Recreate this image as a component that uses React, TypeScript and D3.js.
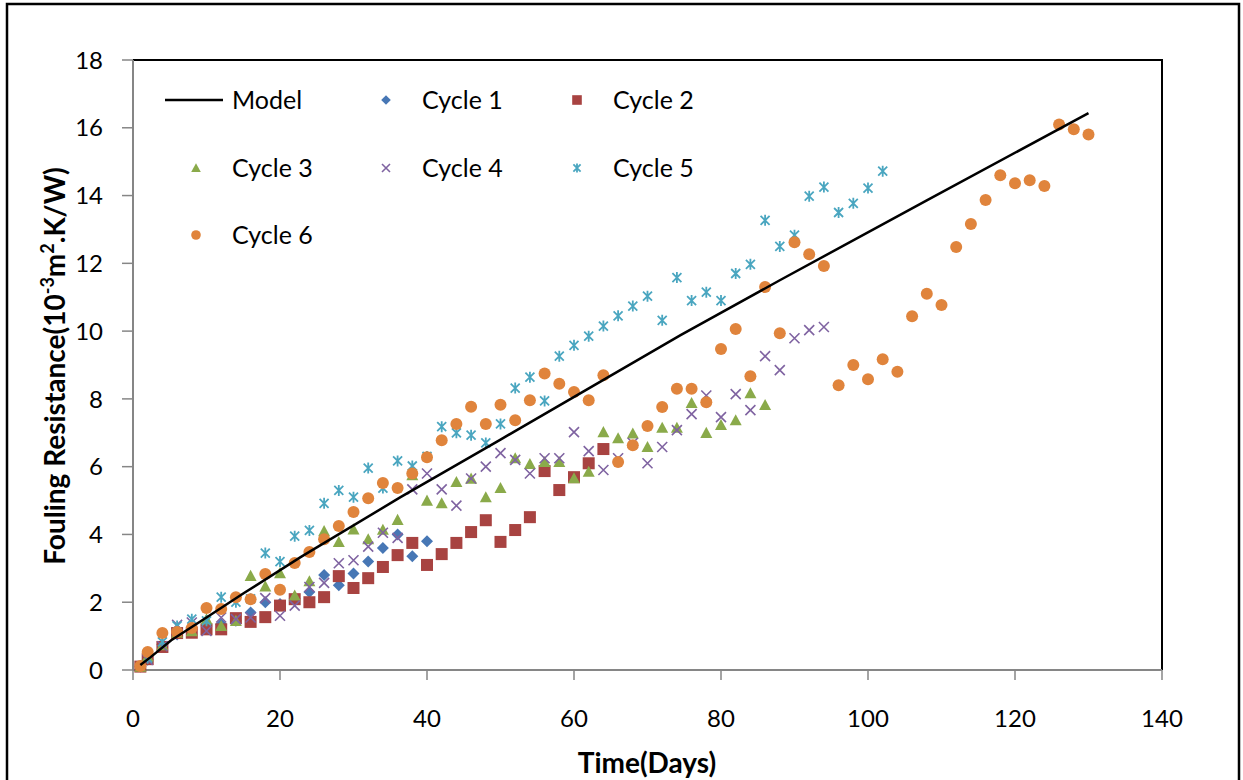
import React from "react";
import * as d3 from "d3";

const xTicks = [0, 20, 40, 60, 80, 100, 120, 140];
const yTicks = [0, 2, 4, 6, 8, 10, 12, 14, 16, 18];

const modelDays = [1, 2.4, 5.2, 10, 15.1, 22.8, 36.4, 50, 74.5, 88, 108, 130];
const modelValues = [0.15, 0.38, 0.88, 1.55, 2.27, 3.33, 5.1, 6.8, 9.88, 11.5, 13.86, 16.43];

const c1Days = [1, 2, 4, 6, 8, 10, 12, 14, 16, 18, 20, 22, 24, 26, 28, 30, 32, 34, 36, 38, 40];
const c1Values = [0.1, 0.3, 0.75, 1.05, 1.2, 1.3, 1.35, 1.45, 1.7, 2.0, 1.95, 2.1, 2.3, 2.8, 2.5, 2.85, 3.2, 3.6, 4.0, 3.36, 3.8];

const c2Days = [1, 2, 4, 6, 8, 10, 12, 14, 16, 18, 20, 22, 24, 26, 28, 30, 32, 34, 36, 38, 40, 42, 44, 46, 48, 50, 52, 54, 56, 58, 60, 62, 64];
const c2Values = [0.1, 0.32, 0.68, 1.09, 1.1, 1.2, 1.2, 1.53, 1.42, 1.56, 1.9, 2.09, 2.0, 2.15, 2.77, 2.42, 2.71, 3.04, 3.39, 3.75, 3.1, 3.42, 3.75, 4.07, 4.42, 3.78, 4.13, 4.51, 5.87, 5.31, 5.69, 6.1, 6.52];

const c3Days = [1, 2, 4, 6, 8, 10, 12, 14, 16, 18, 20, 22, 24, 26, 28, 30, 32, 34, 36, 38, 40, 42, 44, 46, 48, 50, 52, 54, 56, 58, 60, 62, 64, 66, 68, 70, 72, 74, 76, 78, 80, 82, 84, 86];
const c3Values = [0.1, 0.4, 0.73, 1.1, 1.15, 1.5, 1.3, 1.45, 2.78, 2.47, 2.86, 2.2, 2.62, 4.1, 3.78, 4.15, 3.86, 4.14, 4.43, 5.75, 5.0, 4.92, 5.55, 5.65, 5.1, 5.37, 6.25, 6.08, 6.14, 6.14, 5.66, 5.85, 7.02, 6.84, 6.98, 6.58, 7.15, 7.15, 7.88, 7.0, 7.23, 7.37, 8.17, 7.82];

const c4Days = [2, 4, 6, 8, 10, 12, 14, 16, 18, 20, 22, 24, 26, 28, 30, 32, 34, 36, 38, 40, 42, 44, 46, 48, 50, 52, 54, 56, 58, 60, 62, 64, 66, 68, 70, 72, 74, 76, 78, 80, 82, 84, 86, 88, 90, 92, 94];
const c4Values = [0.3, 0.7, 1.33, 1.4, 1.15, 1.55, 1.5, 1.55, 2.12, 1.6, 1.9, 2.45, 2.57, 3.15, 3.24, 3.64, 4.05, 3.9, 5.33, 5.8, 5.33, 4.85, 5.65, 6.0, 6.4, 6.2, 5.8, 6.25, 6.25, 7.02, 6.46, 5.9, 6.25, 6.7, 6.1, 6.58, 7.08, 7.55, 8.1, 7.46, 8.14, 7.67, 9.26, 8.85, 9.79, 10.03, 10.12];

const c5Days = [2, 4, 6, 8, 10, 12, 14, 16, 18, 20, 22, 24, 26, 28, 30, 32, 34, 36, 38, 40, 42, 44, 46, 48, 50, 52, 54, 56, 58, 60, 62, 64, 66, 68, 70, 72, 74, 76, 78, 80, 82, 84, 86, 88, 90, 92, 94, 96, 98, 100, 102];
const c5Values = [0.35, 0.83, 1.3, 1.5, 1.45, 2.15, 2.0, 2.1, 3.45, 3.2, 3.95, 4.12, 4.92, 5.3, 5.1, 5.96, 5.37, 6.17, 6.02, 6.3, 7.18, 7.0, 6.93, 6.7, 7.26, 8.32, 8.64, 7.94, 9.26, 9.58, 9.85, 10.15, 10.45, 10.74, 11.03, 10.32, 11.58, 10.9, 11.15, 10.9, 11.7, 11.97, 13.27, 12.5, 12.83, 13.98, 14.25, 13.5, 13.77, 14.22, 14.72];

const c6Days = [1, 2, 4, 6, 8, 10, 12, 14, 16, 18, 20, 22, 24, 26, 28, 30, 32, 34, 36, 38, 40, 42, 44, 46, 48, 50, 52, 54, 56, 58, 60, 62, 64, 66, 68, 70, 72, 74, 76, 78, 80, 82, 84, 86, 88, 90, 92, 94, 96, 98, 100, 102, 104, 106, 108, 110, 112, 114, 116, 118, 120, 122, 124, 126, 128, 130];
const c6Values = [0.12, 0.53, 1.09, 1.12, 1.24, 1.83, 1.8, 2.15, 2.09, 2.83, 2.37, 3.16, 3.48, 3.86, 4.25, 4.66, 5.07, 5.52, 5.37, 5.8, 6.28, 6.78, 7.26, 7.77, 7.26, 7.83, 7.37, 7.96, 8.75, 8.45, 8.2, 7.96, 8.7, 6.14, 6.63, 7.2, 7.76, 8.3, 8.3, 7.9, 9.47, 10.06, 8.67, 11.3, 9.94, 12.62, 12.27, 11.92, 8.4, 9.0, 8.58, 9.17, 8.8, 10.44, 11.1, 10.77, 12.48, 13.16, 13.87, 14.6, 14.36, 14.45, 14.28, 16.1, 15.96, 15.8];

const seriesNames = ["Cycle 1", "Cycle 2", "Cycle 3", "Cycle 4", "Cycle 5", "Cycle 6"];
const seriesColors = ["#4777B5", "#A84341", "#8AAA4A", "#7F63A1", "#4AA6C0", "#E0843C"];
const seriesDays = [c1Days, c2Days, c3Days, c4Days, c5Days, c6Days];
const seriesValues = [c1Values, c2Values, c3Values, c4Values, c5Values, c6Values];

const FONT = "Lato, 'Open Sans', sans-serif";

function Marker({ kind, cx, cy, color, s = 1 }: { kind: number; cx: number; cy: number; color: string; s?: number }) {
  if (kind === 0) {
    const r = 6 * s;
    return <path d={`M${cx},${cy - r}L${cx + r},${cy}L${cx},${cy + r}L${cx - r},${cy}Z`} fill={color} />;
  }
  if (kind === 1) {
    const h = 6 * s;
    return <rect x={cx - h} y={cy - h} width={2 * h} height={2 * h} fill={color} />;
  }
  if (kind === 2) {
    const h = 6 * s;
    return <path d={`M${cx},${cy - h}L${cx + h},${cy + h * 0.85}L${cx - h},${cy + h * 0.85}Z`} fill={color} />;
  }
  if (kind === 3) {
    const h = 5 * s;
    return (
      <path d={`M${cx - h},${cy - h}L${cx + h},${cy + h}M${cx - h},${cy + h}L${cx + h},${cy - h}`} stroke={color} strokeWidth={1.6} fill="none" />
    );
  }
  if (kind === 4) {
    const h = 4.5 * s;
    return (
      <path
        d={`M${cx - h},${cy - h}L${cx + h},${cy + h}M${cx - h},${cy + h}L${cx + h},${cy - h}M${cx},${cy - h - 1}L${cx},${cy + h + 1}`}
        stroke={color}
        strokeWidth={1.8}
        fill="none"
      />
    );
  }
  return <circle cx={cx} cy={cy} r={6 * s} fill={color} />;
}

export default function App() {
  const W = 1243;
  const H = 780;
  const x = d3.scaleLinear().domain([0, 140]).range([133, 1162]);
  const y = d3.scaleLinear().domain([0, 18]).range([670, 60]);

  const line = d3
    .line<number>()
    .x((_, i) => x(modelDays[i]))
    .y((v) => y(v));

  const legendItems = [
    { label: "Model", kind: -1, color: "#000", lx: 196, ly: 100 },
    { label: seriesNames[0], kind: 0, color: seriesColors[0], lx: 386, ly: 100 },
    { label: seriesNames[1], kind: 1, color: seriesColors[1], lx: 577, ly: 100 },
    { label: seriesNames[2], kind: 2, color: seriesColors[2], lx: 196, ly: 168 },
    { label: seriesNames[3], kind: 3, color: seriesColors[3], lx: 386, ly: 168 },
    { label: seriesNames[4], kind: 4, color: seriesColors[4], lx: 577, ly: 168 },
    { label: seriesNames[5], kind: 5, color: seriesColors[5], lx: 196, ly: 235 },
  ];

  return (
    <svg width={W} height={H} style={{ position: "absolute", left: 0, top: 0, background: "#fff" }} fontFamily={FONT}>
      <rect x={0} y={0} width={W} height={H} fill="#fff" />
      {/* outer frame */}
      <rect x={7} y={4} width={1232} height={H + 10} fill="none" stroke="#000" strokeWidth={2.5} />

      {/* plot area border (top/right) */}
      <path d={`M${x(0)},${y(18)}H${x(140)}V${y(0)}`} fill="none" stroke="#000" strokeWidth={2} />

      {/* y axis */}
      <line x1={x(0)} x2={x(0)} y1={y(18)} y2={y(0)} stroke="#868686" strokeWidth={2} />
      {yTicks.map((t) => (
        <g key={"y" + t}>
          <line x1={x(0) - 11} x2={x(0)} y1={y(t)} y2={y(t)} stroke="#868686" strokeWidth={1.5} />
          <text x={103} y={y(t)} dy="0.36em" textAnchor="end" fontSize={24} fill="#000">
            {t}
          </text>
        </g>
      ))}

      {/* x axis */}
      <line x1={x(0)} x2={x(140)} y1={y(0)} y2={y(0)} stroke="#868686" strokeWidth={2} />
      {xTicks.map((t) => (
        <g key={"x" + t}>
          <line x1={x(t)} x2={x(t)} y1={y(0)} y2={y(0) + 10} stroke="#868686" strokeWidth={1.5} />
          <text x={x(t)} y={718} dy="0.36em" textAnchor="middle" fontSize={24} fill="#000">
            {t}
          </text>
        </g>
      ))}

      {/* axis titles */}
      <text x={647} y={773} textAnchor="middle" fontSize={28} fontWeight="bold" fill="#000">
        Time(Days)
      </text>
      <text transform={`translate(65,366) rotate(-90)`} textAnchor="middle" fontSize={28} fontWeight="bold" fill="#000">
        Fouling Resistance(10
        <tspan fontSize={18} dy={-11}>-3</tspan>
        <tspan dy={11}>m</tspan>
        <tspan fontSize={18} dy={-11}>2</tspan>
        <tspan dy={11}>.K/W)</tspan>
      </text>

      {/* data markers */}
      {seriesDays.map((days, si) => (
        <g key={"s" + si}>
          {days.map((d, i) => (
            <Marker key={i} kind={si} cx={x(d)} cy={y(seriesValues[si][i])} color={seriesColors[si]} />
          ))}
        </g>
      ))}

      {/* model line */}
      <path d={line(modelValues) || ""} fill="none" stroke="#000" strokeWidth={2.5} />

      {/* legend */}
      {legendItems.map((it) => (
        <g key={it.label}>
          {it.kind === -1 ? (
            <line x1={165} x2={223} y1={it.ly} y2={it.ly} stroke="#000" strokeWidth={2.5} />
          ) : (
            <Marker kind={it.kind} cx={it.lx} cy={it.ly} color={it.color} s={0.8} />
          )}
          <text x={it.lx + 36} y={it.ly} dy="0.36em" fontSize={25} fill="#000">
            {it.label}
          </text>
        </g>
      ))}
    </svg>
  );
}
